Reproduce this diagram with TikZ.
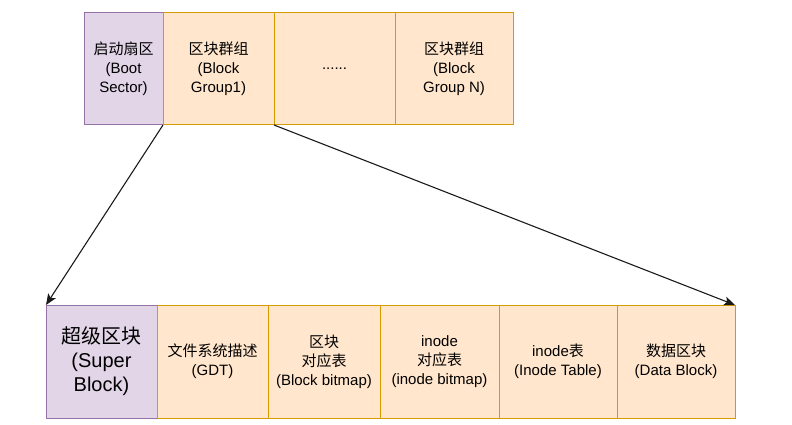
\documentclass[tikz,border=0pt]{standalone}
\usepackage{fontspec}
\setmainfont{Liberation Sans}
\newfontfamily\cjk{Noto Sans CJK SC}
\newcommand{\zh}[1]{{\cjk #1}}
\usetikzlibrary{arrows.meta,positioning}
\definecolor{BPurple}{HTML}{9673A6}
\definecolor{BPurpleF}{HTML}{E1D5E7}
\definecolor{BOrange}{HTML}{D79B00}
\definecolor{BOrangeF}{HTML}{FFE6CC}
\definecolor{BLine}{HTML}{1A1A1A}
\begin{document}
\begin{tikzpicture}[
  x=1pt,y=-1pt,
  node distance=0pt,
  pb/.style={draw=BPurple,fill=BPurpleF,line width=1pt,outer sep=0pt,inner sep=0pt,
    minimum height=112pt,align=center,font=\fontsize{15}{19}\selectfont},
  ob/.style={draw=BOrange,fill=BOrangeF,line width=1pt,outer sep=0pt,inner sep=0pt,
    minimum height=112pt,align=center,font=\fontsize{15}{19}\selectfont},
  a/.style={-{Stealth[length=11pt,width=9pt,inset=2.5pt]},color=BLine,line width=1.1pt}
]
  \useasboundingbox (0,0) rectangle (792,425);
  % disk layout
  \node[pb,minimum width=79pt,anchor=north west] (boot) at (84,13)
    {\zh{启动扇区}\\(Boot\\Sector)};
  \node[ob,minimum width=111pt,right=of boot] (grp1) {\zh{区块群组}\\(Block\\Group1)};
  \node[ob,minimum width=121pt,right=of grp1] (dots) {......};
  \node[ob,minimum width=118pt,right=of dots] (grpn) {\zh{区块群组}\\(Block\\Group N)};
  % block group layout
  \node[pb,minimum width=111pt,minimum height=113pt,anchor=north west,
    font=\fontsize{20}{24}\selectfont] (super) at (46,305) {\zh{超级区块}\\(Super\\Block)};
  \node[ob,minimum width=111pt,minimum height=113pt,right=of super] (gdt)
    {\zh{文件系统描述}\\(GDT)};
  \node[ob,minimum width=112pt,minimum height=113pt,right=of gdt] (bbmap)
    {\zh{区块}\\\zh{对应表}\\(Block bitmap)};
  \node[ob,minimum width=119pt,minimum height=113pt,right=of bbmap] (ibmap)
    {inode\\\zh{对应表}\\(inode bitmap)};
  \node[ob,minimum width=118pt,minimum height=113pt,right=of ibmap] (itable)
    {inode\zh{表}\\(Inode Table)};
  \node[ob,minimum width=118pt,minimum height=113pt,right=of itable] (data)
    {\zh{数据区块}\\(Data Block)};
  \draw[a] (boot.south east) -- (super.north west);
  \draw[a] (grp1.south east) -- (data.north east);
\end{tikzpicture}
\end{document}
